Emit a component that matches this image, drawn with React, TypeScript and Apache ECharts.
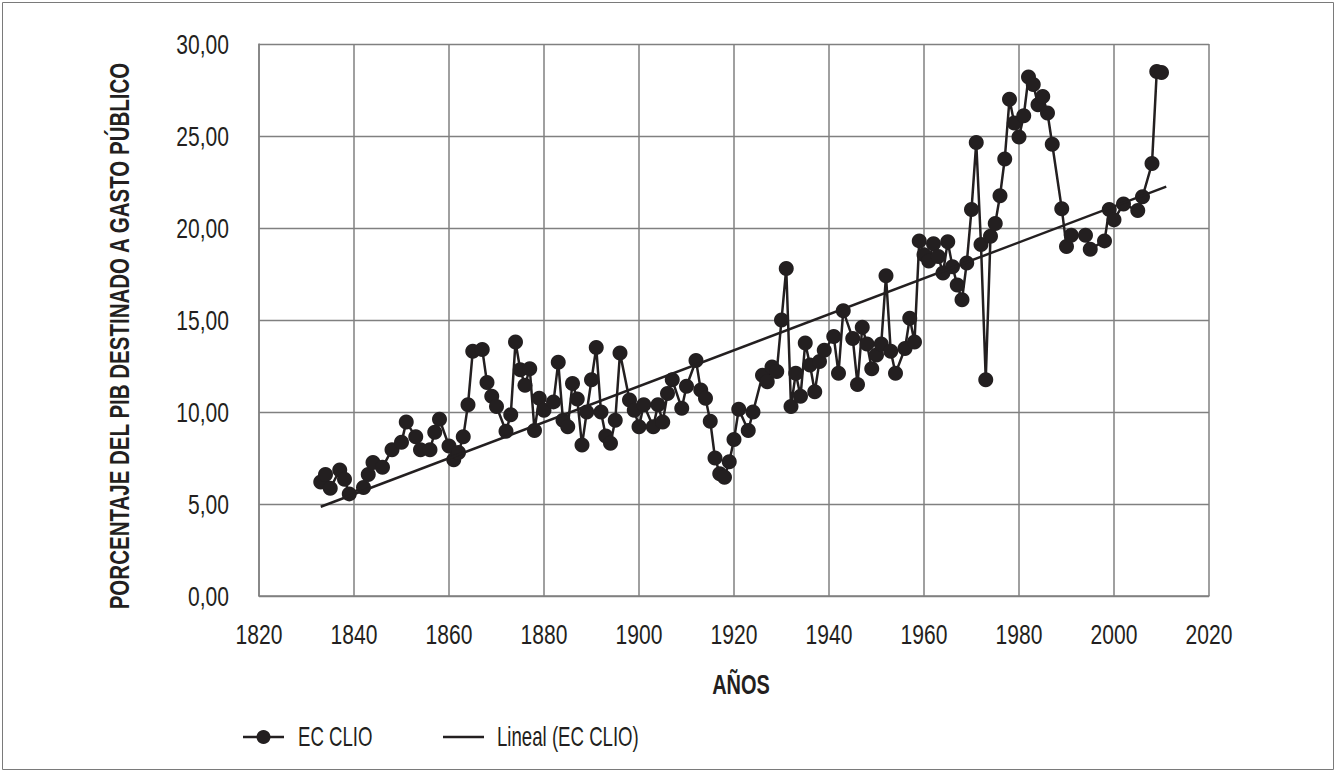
import React, { useEffect, useRef } from "react";
import * as echarts from "echarts";

const years: number[] = [
  1833, 1834, 1835, 1837, 1838, 1839, 1842, 1843, 1844, 1846,
  1848, 1850, 1851, 1853, 1854, 1856, 1857, 1858, 1860, 1861,
  1862, 1863, 1864, 1865, 1867, 1868, 1869, 1870, 1872, 1873,
  1874, 1875, 1876, 1877, 1878, 1879, 1880, 1882, 1883, 1884,
  1885, 1886, 1887, 1888, 1889, 1890, 1891, 1892, 1893, 1894,
  1895, 1896, 1898, 1899, 1900, 1901, 1903, 1904, 1905, 1906,
  1907, 1909, 1910, 1912, 1913, 1914, 1915, 1916, 1917, 1918,
  1919, 1920, 1921, 1923, 1924, 1926, 1927, 1928, 1929, 1930,
  1931, 1932, 1933, 1934, 1935, 1936, 1937, 1938, 1939, 1941,
  1942, 1943, 1945, 1946, 1947, 1948, 1949, 1950, 1951, 1952,
  1953, 1954, 1956, 1957, 1958, 1959, 1960, 1961, 1962, 1963,
  1964, 1965, 1966, 1967, 1968, 1969, 1970, 1971, 1972, 1973,
  1974, 1975, 1976, 1977, 1978, 1979, 1980, 1981, 1982, 1983,
  1984, 1985, 1986, 1987, 1989, 1990, 1991, 1994, 1995, 1998,
  1999, 2000, 2002, 2005, 2006, 2008, 2009, 2010,
];

const gastoPublico: number[] = [
  6.2, 6.6, 5.85, 6.85, 6.35, 5.55, 5.9, 6.6, 7.25, 7.0,
  7.95, 8.35, 9.45, 8.65, 7.95, 7.95, 8.9, 9.6, 8.15, 7.4,
  7.8, 8.65, 10.4, 13.3, 13.4, 11.6, 10.85, 10.3, 8.95, 9.85,
  13.8, 12.3, 11.45, 12.35, 9.0, 10.75, 10.1, 10.55, 12.7, 9.55,
  9.2, 11.55, 10.7, 8.2, 10.0, 11.75, 13.5, 10.0, 8.7, 8.3,
  9.55, 13.2, 10.65, 10.1, 9.2, 10.4, 9.2, 10.4, 9.45, 11.0,
  11.75, 10.2, 11.4, 12.8, 11.2, 10.75, 9.5, 7.5, 6.65, 6.45,
  7.3, 8.5, 10.15, 9.0, 10.0, 12.0, 11.65, 12.45, 12.2, 15.0,
  17.8, 10.3, 12.1, 10.85, 13.75, 12.55, 11.1, 12.75, 13.35, 14.1,
  12.1, 15.5, 14.0, 11.5, 14.6, 13.7, 12.35, 13.1, 13.7, 17.4,
  13.3, 12.1, 13.45, 15.1, 13.8, 19.3, 18.55, 18.2, 19.15, 18.45,
  17.55, 19.25, 17.9, 16.9, 16.1, 18.1, 21.0, 24.65, 19.1, 11.75,
  19.55, 20.25, 21.75, 23.75, 27.0, 25.7, 24.95, 26.1, 28.2, 27.8,
  26.7, 27.15, 26.25, 24.55, 21.05, 19.0, 19.6, 19.6, 18.85, 19.3,
  21.0, 20.45, 21.3, 20.95, 21.7, 23.5, 28.5, 28.45,
];

const trendYears: number[] = [1833, 2011];
const trendValues: number[] = [4.85, 22.25];

const xTicks: number[] = [1820, 1840, 1860, 1880, 1900, 1920, 1940, 1960, 1980, 2000, 2020];
const yTicks: number[] = [0, 5, 10, 15, 20, 25, 30];
const yTickLabels: string[] = ["0,00", "5,00", "10,00", "15,00", "20,00", "25,00", "30,00"];

const seriesName = "EC CLIO";
const trendName = "Lineal (EC CLIO)";
const xTitle = "AÑOS";
const yTitle = "PORCENTAJE DEL PIB DESTINADO A GASTO PÚBLICO";

export default function App() {
  const ref = useRef<HTMLDivElement>(null);

  useEffect(() => {
    if (!ref.current) return;
    const chart = echarts.init(ref.current, null, { renderer: "svg" });
    const font = '"Liberation Sans", Arial, sans-serif';
    const ink = "#231f20";
    const gridColor = "#808080";

    chart.setOption({
      animation: false,
      backgroundColor: "#ffffff",
      grid: { left: 259, right: 127, top: 44, bottom: 176 },
      xAxis: {
        type: "value",
        min: 1820,
        max: 2020,
        interval: 20,
        axisLine: { show: true, lineStyle: { color: gridColor, width: 1.5 } },
        axisTick: { show: false },
        axisLabel: { show: false },
        splitLine: { show: true, lineStyle: { color: gridColor, width: 1.5 } },
      },
      yAxis: {
        type: "value",
        min: 0,
        max: 30,
        interval: 5,
        axisLine: { show: true, lineStyle: { color: gridColor, width: 1.5 } },
        axisTick: { show: false },
        axisLabel: { show: false },
        splitLine: { show: true, lineStyle: { color: gridColor, width: 1.3 } },
      },
      series: [
        {
          name: seriesName,
          type: "line",
          data: years.map((y, i) => [y, gastoPublico[i]]),
          symbol: "circle",
          symbolSize: 15,
          showAllSymbol: true,
          itemStyle: { color: ink },
          lineStyle: { color: ink, width: 2.5 },
          z: 3,
        },
        {
          name: trendName,
          type: "line",
          data: trendYears.map((y, i) => [y, trendValues[i]]),
          symbol: "none",
          itemStyle: { color: ink },
          lineStyle: { color: ink, width: 2.5 },
          z: 4,
        },
      ],
    });

    const px = (x: number, y: number) =>
      chart.convertToPixel({ gridIndex: 0 }, [x, y]) as number[];
    const bottomY = px(1820, 0)[1];
    const leftX = px(1820, 0)[0];
    const midX = (px(1820, 0)[0] + px(2020, 0)[0]) / 2;
    const midY = (px(1820, 0)[1] + px(1820, 30)[1]) / 2;

    const tickStyle = { fontFamily: font, fontSize: 27, fill: ink };
    const graphics: any[] = [
      {
        type: "rect",
        silent: true,
        shape: { x: 2.5, y: 2.5, width: 1331, height: 767 },
        style: { fill: "none", stroke: "#7a7a7a", lineWidth: 1 },
      },
    ];

    xTicks.forEach((t) => {
      graphics.push({
        type: "text",
        silent: true,
        x: px(t, 0)[0],
        y: bottomY + 39,
        scaleX: 0.78,
        style: { ...tickStyle, text: String(t), align: "center", verticalAlign: "middle" },
      });
    });
    yTicks.forEach((t, i) => {
      graphics.push({
        type: "text",
        silent: true,
        x: leftX - 30,
        y: px(1820, t)[1] + 1,
        scaleX: 0.78,
        style: { ...tickStyle, text: yTickLabels[i], align: "right", verticalAlign: "middle" },
      });
    });

    graphics.push({
      type: "text",
      silent: true,
      x: midX + 7,
      y: bottomY + 88,
      scaleX: 0.74,
      style: { fontFamily: font, fontSize: 27, fontWeight: "bold", fill: ink, text: xTitle, align: "center", verticalAlign: "middle" },
    });
    graphics.push({
      type: "text",
      silent: true,
      x: 119,
      y: midY + 16,
      rotation: Math.PI / 2,
      scaleX: 0.76,
      style: { fontFamily: font, fontSize: 27, fontWeight: "bold", fill: ink, text: yTitle, align: "center", verticalAlign: "middle" },
    });

    const legY = 737;
    graphics.push(
      { type: "line", silent: true, shape: { x1: 243, y1: legY, x2: 284, y2: legY }, style: { stroke: ink, lineWidth: 2.5 } },
      { type: "circle", silent: true, shape: { cx: 263.5, cy: legY, r: 7 }, style: { fill: ink } },
      {
        type: "text",
        silent: true,
        x: 298,
        y: legY,
        scaleX: 0.69,
        style: { fontFamily: font, fontSize: 27, fill: ink, text: seriesName, align: "left", verticalAlign: "middle" },
      },
      { type: "line", silent: true, shape: { x1: 443, y1: legY, x2: 484, y2: legY }, style: { stroke: ink, lineWidth: 2.5 } },
      {
        type: "text",
        silent: true,
        x: 497,
        y: legY,
        scaleX: 0.69,
        style: { fontFamily: font, fontSize: 27, fill: ink, text: trendName, align: "left", verticalAlign: "middle" },
      }
    );

    chart.setOption({ graphic: graphics });

    return () => chart.dispose();
  }, []);

  return (
    <div
      ref={ref}
      style={{ position: "absolute", left: 0, top: 0, width: 1336, height: 772, background: "#fff" }}
    />
  );
}
